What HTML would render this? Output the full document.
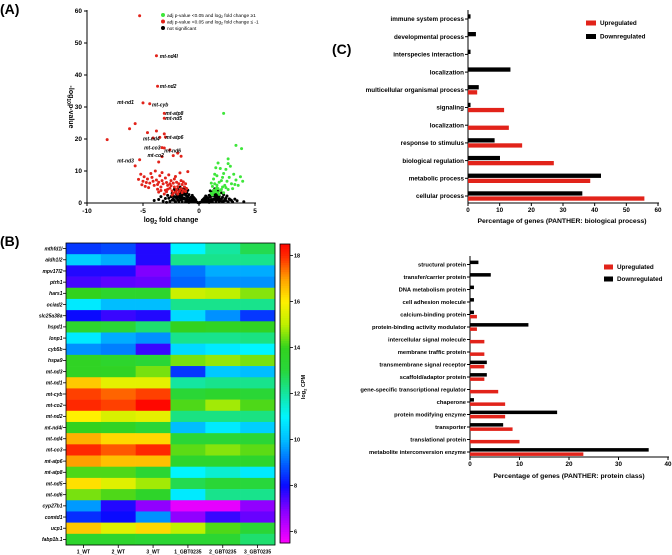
<!DOCTYPE html>
<html><head><meta charset="utf-8"><style>
body{margin:0;background:#fff;}
svg{display:block;font-family:"Liberation Sans",Arial,sans-serif;}
</style></head><body>
<svg id="fig" width="672" height="555" viewBox="0 0 672 555">
<g id="A"></g>
<g id="B"></g>
<g id="C1"></g>
<g id="C2"></g>
</svg>
<script>
// ---------- Volcano data ----------
const blackPts = "0,0 -0.2,0.3 0.2,0.3 -0.4,0.8 0.4,0.7 -0.6,1.2 0.6,1.1 -0.8,1.6 0.8,1.5 -1,2 1,1.9 -1.2,2.5 1.2,2.3 -1.4,3 1.4,2.8 -1.6,3.4 1.5,3.2 -1.8,3.6 -1.3,1.5 1.3,1.2 -1,0.6 1,0.5 -1.6,1 1.6,0.9 -2,1.5 2,1.2 -2.2,0.8 2.2,0.6 -2.5,2 2.4,1.6 -2,2.8 -1.7,2.2 1.8,2 -0.7,0.3 0.7,0.3 -1.5,0.4 1.5,0.3 -2.6,0.5 2.6,0.4 -3,1.4 2.8,1 -3.2,0.6 3,0.3 -1.1,3.2 1.1,3 -0.9,2.6 0.9,2.4 -1.9,4.2 1.7,4 -0.5,1.8 0.5,1.6 -2.4,3 2.2,2.6 -1.2,1 1.2,0.9 -0.3,0.5 0.3,0.4 -2.8,2.4 2.5,2.2 -1.5,2.4 1.4,2.1 -3.4,2 -0.8,0.8 0.8,0.7 -1.8,1.8 1.8,1.5 3.2,1.2 -2.1,3.6 2,3.2 -0.6,2.4 0.6,2.2 -1.4,4.4 1.4,4.4 -1.7,5 -1,4 1,3.8 -0.1,0.1 0.1,0.2 -1.1,1.3 1.1,1.1 -1.9,0.9 1.9,0.7 -2.3,2.2 -0.4,1.4 0.4,1.2 -1.3,3.8 1.2,3.4 -2.9,0.2 2.9,0.8 4,0.4 -4,0.8 -0.3,1 0.3,0.9 -0.5,0.4 0.5,0.3 -0.7,1.8 0.7,1.7 -0.9,1.1 0.9,1 -1.1,2.2 1.1,2.1 -1.3,2.8 1.3,2.6 -1.5,1.7 1.5,1.6 -1.7,3 1.6,2.6 -1.9,2.2 1.8,2.4 -2.1,1.9 2.1,1.8 -2.3,1.3 2.3,1.1 -1.2,0.3 1.2,0.3 -1.8,0.5 1.8,0.4 -2.1,0.3 2.1,0.3 -0.9,0.2 0.9,0.2 -1.4,1.3 1.4,1.1 -1.6,2 1.6,1.8 -2.7,1.5 2.7,1.3 -1.5,3.8 1.3,3.6 -2.2,4.3 -1.2,4.6 1.6,4.2 -0.6,0.7 0.6,0.6 -1.7,1.4 1.7,1.2 -2.4,0.9 2.4,0.8 -3.6,1.1 3.4,0.7";
const redPts = "-1.2,3.6 -1.4,4 -1.6,4.5 -1.8,3.5 -2,4.2 -2.2,5 -2.4,3.8 -2.6,4.6 -2.8,5.5 -3,4 -3.2,6 -3.4,5 -3.6,6.5 -3.8,7.2 -4,5.5 -4.2,8 -4.4,6.2 -4.6,7.5 -4.8,5.2 -5,6.8 -5.2,9 -3.5,8.5 -3,7.8 -2.5,7 -2,6.5 -1.5,5.8 -1.3,5 -1.8,6 -2.2,7.5 -2.7,8.8 -3.3,9.5 -3.9,10 -4.3,9.2 -1.1,4.5 -1.6,7 -2.9,3.5 -3.7,4.3 -1.9,2.8 -2.3,3 -4.9,8.2 -3.1,2.8 -2.1,8.3 -1.7,9.4 -1,9.8 -2.6,6 -1.4,6.6 -3.6,3.4 -4.5,4.8 -5.4,7.4 -2.4,2.5 -1.5,3.3 -1.7,4 -2.1,3.4 -2.5,5.4 -2.9,6.4 -3.3,7 -3.7,5.8 -4.1,6.8 -1.9,5.1 -2.3,6.2 -1.2,6 -2.8,4.3 -3.4,3.9 -4.7,6.4 -5.1,5.7 -5.3,58.5 -8.2,19.8 -6.2,23.2 -5.7,24.8 -4.6,22 -3.8,22.5 -3.1,21.6 -4.1,20.3 -5.7,11.6 -3.6,12.8 -2.3,14.8 -1.6,14.6 -1.9,15.6 -2.6,16.6 -3.8,46 -3.7,36.5 -5,31.3 -4.4,31 -3.1,28 -3.1,26.5 -3.5,20.5 -3,20.6 -3.3,17.3 -3.1,17.2 -3.3,14.5 -5.3,13.5";
const greenPts = "1.1,3 1.3,4 1.5,3.5 1.7,4.5 1.9,3.8 2.1,5 1.2,5.2 1.4,6 1.6,4.8 1.8,6.5 2,7 2.3,5.5 2.5,6.8 2.7,8 2.9,6 3.1,9 3.3,7.2 3.5,5.5 3.7,8.2 3.9,6.8 1.1,6.2 1.3,7.5 1.6,8.5 2.2,9.2 2.4,10.5 1.9,10.8 1.5,11 2.8,11.5 2.6,12.3 1.8,2.7 2.2,3.2 1.2,2.5 2.6,4.2 3,4.5 1.4,9 2.1,8 3.2,5.8 1.5,4.2 1.7,3.2 2,4.2 1.3,3.3 1.6,5.6 2.4,4.8 2.2,28 3.3,18 3.8,17 2.6,13.8 1.7,12.5";
const geneLabels = ["mt-nd4l","mt-nd2","mt-nd1","mt-cyb","mt-atp8","mt-nd5","mt-nd4","mt-atp6","mt-co3","mt-nd6","mt-co2","mt-nd3"];
const geneLabelPos = [[-3.5,46],[-3.5,36.5],[-7.3,31.5],[-4.2,30.8],[-3,28.2],[-3,26.6],[-5,20.2],[-3,20.6],[-4.9,17.3],[-3.1,16.4],[-4.6,15],[-7.3,13.3]];
const volXTicks = [-10,-5,0,5];
const volYTicks = [0,10,20,30,40,50,60];

// ---------- Heatmap data ----------
const hmGenes = ["mthfd1l","aldh1l2","mpv17l2","ptrh1","hars1","ociad2","slc25a38a","hspd1","lonp1","cyb5b","hspa9","mt-nd3","mt-nd1","mt-cyb","mt-co2","mt-nd2","mt-nd4l","mt-nd4","mt-co3","mt-atp6","mt-atp8","mt-nd5","mt-nd6","cyp27b1","comtd1","ucp1","fabp1b.1"];
const hmSamples = ["1_WT","2_WT","3_WT","1_GBT0235","2_GBT0235","3_GBT0235"];
const hmValues = [
[8.5,8.7,7.8,11,12,12.8],[10.3,9.8,7.8,12.2,12.2,12.2],[7.8,7.8,7,9.2,9.8,9.8],[7.5,7.3,7.2,9,9.5,9.5],
[14,13.5,13.5,15.2,15,14.6],[10.8,10,10,12.2,12.2,12.2],[8,7.6,7.8,10.5,9.5,8.5],[13.5,13.2,12.5,14,13.8,13.8],
[10.8,9.8,9.5,12.2,12.2,12.3],[9.5,9.3,7.6,10.5,10.8,11],[13.8,13.5,13.2,14.5,14.7,14.5],[13.8,13.8,14.5,8.5,10.2,10],
[16.5,15.6,15.6,12,12.2,12.2],[17.8,17.5,17.8,13.2,13.5,13.2],[18,17.8,18.5,14.2,14.8,14.2],[16,15.4,15.6,12.3,12.3,12.3],
[14,13.8,13.2,10,10.8,10.3],[16.8,16.3,16.3,13.2,13.2,13.2],[18,17.6,18,14.3,14.6,14.3],[17,16.6,16.6,13.5,13.5,13.5],
[14.2,14.2,13.3,11,11.5,10.8],[16.2,15.5,14.8,12.8,13.2,13],[14.5,14.2,13.6,10.8,12.2,12.2],[9.6,7.8,6.8,5.8,5.8,6.8],
[8.4,8,9.5,6.8,7.6,7.2],[16.5,15.5,16.3,15,14.2,13.2],[13.5,13.5,13.3,13.3,13.3,12.5]];
const cbTicks = [6,8,10,12,14,16,18];

// ---------- Biological process ----------
const bpCats = ["immune system process","developmental process","interspecies interaction","localization","multicellular organismal process","signaling","localization","response to stimulus","biological regulation","metabolic process","cellular process"];
const bpDown = [0.8,2.5,0.8,13.4,3.4,0.8,0,8.4,10.1,42,36.1];
const bpUp = [0,0,0,0,2.9,11.4,12.9,17.1,27.1,38.6,55.7];
const bpTicks = [0,10,20,30,40,50,60];

// ---------- Protein class ----------
const pcCats = ["structural protein","transfer/carrier protein","DNA metabolism protein","cell adhesion molecule","calcium-binding protein","protein-binding activity modulator","intercellular signal molecule","membrane traffic protein","transmembrane signal receptor","scaffold/adaptor protein","gene-specific transcriptional regulator","chaperone","protein modifying enzyme","transporter","translational protein","metabolite interconversion enzyme"];
const pcDown = [1.7,4.2,0.8,0.8,0.8,11.8,0,0,3.4,3.4,0,0.8,17.6,6.7,0,36.1];
const pcUp = [0,0,0,0,1.4,1.4,2.9,2.9,2.9,2.9,5.7,7.1,7.1,8.6,10,22.9];
const pcTicks = [0,10,20,30,40];

const NS="http://www.w3.org/2000/svg";
function mk(parent,tag,attrs,text){const e=document.createElementNS(NS,tag);for(const k in attrs)e.setAttribute(k,attrs[k]);if(text!==undefined)e.textContent=text;parent.appendChild(e);return e;}
const RED="#e2231a";
const fig=document.getElementById('fig');

[["(A)",0,14],["(B)",0,246],["(C)",332,54]].forEach(p=>{
  const t=mk(fig,'text',{x:p[1],y:p[2],'font-size':14,'font-weight':'bold'},p[0]);
  
  
});

// ===== Volcano =====
(function(){
  const g=document.getElementById('A');
  const vx=v=>87+(v+10)*(168/15), vy=v=>203-v*3.2;
  mk(g,'line',{x1:87,y1:203,x2:256,y2:203,stroke:'#000','stroke-width':1});
  mk(g,'line',{x1:87,y1:203,x2:87,y2:10,stroke:'#000','stroke-width':1});
  volXTicks.forEach(t=>{
    mk(g,'line',{x1:vx(t),y1:203,x2:vx(t),y2:206,stroke:'#000'});
    const e=mk(g,'text',{x:vx(t),y:213,'font-size':6.5,'font-weight':'bold','text-anchor':'middle'},t);
    
    
  });
  volYTicks.forEach(t=>{
    mk(g,'line',{x1:84,y1:vy(t),x2:87,y2:vy(t),stroke:'#000'});
    const e=mk(g,'text',{x:82,y:vy(t)+2.2,'font-size':6.5,'font-weight':'bold','text-anchor':'end'},t);
    
    
  });
  const xt=mk(g,'text',{x:171,y:222,'font-size':7,'font-weight':'bold','text-anchor':'middle'});
  xt.innerHTML='log<tspan font-size="5" dy="2">2</tspan><tspan dy="-2"> fold change</tspan>';
  
  
  const yt=mk(g,'text',{x:0,y:0,'font-size':7,'font-weight':'bold','text-anchor':'middle',transform:'translate(69,107) rotate(90)'});
  yt.innerHTML='-log<tspan font-size="5" dy="2">10</tspan><tspan dy="-2">p-value</tspan>';
  
  
  function draw(str,col,name){
    str.trim().split(/\s+/).forEach(p=>{const [a,b]=p.split(',').map(Number);
      const c=mk(g,'circle',{cx:vx(a),cy:vy(b),r:1.5,fill:col});
      
      });
  }
  draw(blackPts,'#000','point-not-significant');
  draw(greenPts,'#3ee63a','point-upregulated');
  draw(redPts,RED,'point-downregulated');
  geneLabels.forEach((l,i)=>{
    const e=mk(g,'text',{x:vx(geneLabelPos[i][0]),y:vy(geneLabelPos[i][1])+2,'font-size':5,'font-weight':'bold','font-style':'italic'},l);
    
    
  });
  const leg=[['#3ee63a','adj p-value <0.05 and log','2',' fold change \u22651'],[RED,'adj p-value <0.05 and log','2',' fold change \u2264 -1'],['#000','not significant','','']];
  leg.forEach((l,i)=>{
    const y=15+i*6.5;
    const c=mk(g,'circle',{cx:163,cy:y,r:2,fill:l[0]});
    
    
    const t=mk(g,'text',{x:167,y:y+1.8,'font-size':4.8});
    t.innerHTML=l[1]+(l[2]?'<tspan font-size="3.5" dy="1">'+l[2]+'</tspan><tspan dy="-1">'+l[3]+'</tspan>':'');
    
    
  });
})();

// ===== Heatmap =====
function heatColor(v){
  const stops=[[5.5,[255,0,255]],[7,[128,0,255]],[8,[10,10,255]],[9,[0,100,255]],[10,[0,190,255]],[11,[0,245,255]],[12,[20,230,160]],[13,[40,215,60]],[14,[50,210,30]],[15,[190,240,0]],[16,[255,240,0]],[17,[255,160,0]],[18,[255,40,0]],[18.6,[255,0,0]]];
  if(v<=stops[0][0])return 'rgb('+stops[0][1]+')';
  for(let i=1;i<stops.length;i++){if(v<=stops[i][0]){const a=stops[i-1],b=stops[i],f=(v-a[0])/(b[0]-a[0]);
    return 'rgb('+a[1].map((c,k)=>Math.round(c+(b[1][k]-c)*f)).join(',')+')';}}
  return 'rgb(255,0,0)';
}
(function(){
  const g=document.getElementById('B');
  const x0=66,x1=275,y0=243,y1=545;
  const cw=(x1-x0)/hmSamples.length, rh=(y1-y0)/hmGenes.length;
  hmValues.forEach((row,r)=>row.forEach((v,c)=>{
    const e=mk(g,'rect',{x:x0+c*cw,y:y0+r*rh,width:cw+0.3,height:rh+0.3,fill:heatColor(v)});
    
    
  }));
  mk(g,'rect',{x:x0,y:y0,width:x1-x0,height:y1-y0,fill:'none',stroke:'#000','stroke-width':0.8});
  hmGenes.forEach((n,r)=>{
    const y=y0+(r+0.5)*rh;
    mk(g,'line',{x1:x0-3,y1:y,x2:x0,y2:y,stroke:'#000','stroke-width':0.8});
    const e=mk(g,'text',{x:x0-3.5,y:y+1.8,'font-size':5,'font-weight':'bold','font-style':'italic','text-anchor':'end'},n);
    
    
  });
  hmSamples.forEach((n,c)=>{
    const x=x0+(c+0.5)*cw;
    mk(g,'line',{x1:x,y1:y1,x2:x,y2:y1+3,stroke:'#000','stroke-width':0.8});
    const e=mk(g,'text',{x:x,y:y1+8.5,'font-size':5,'font-weight':'bold','text-anchor':'middle'},n);
    
    
  });
  const cy0=244,cy1=543,vmin=5.5,vmax=18.5;
  const cyf=v=>cy1-(v-vmin)/(vmax-vmin)*(cy1-cy0);
  for(let i=0;i<130;i++){const v=vmin+(i+0.5)*(vmax-vmin)/130;
    mk(g,'rect',{x:280,y:cyf(v)-(cy1-cy0)/260,width:10,height:(cy1-cy0)/130+0.5,fill:heatColor(v)});}
  const cb=mk(g,'rect',{x:280,y:cy0,width:10,height:cy1-cy0,fill:'none',stroke:'#000','stroke-width':0.8});
  
  
  cbTicks.forEach(t=>{
    mk(g,'line',{x1:290,y1:cyf(t),x2:293,y2:cyf(t),stroke:'#000','stroke-width':0.8});
    const e=mk(g,'text',{x:294,y:cyf(t)+2,'font-size':5.5,'font-weight':'bold'},t);
    
    
  });
  const tt=mk(g,'text',{x:0,y:0,'font-size':5.5,'font-weight':'bold','text-anchor':'middle',transform:'translate(305,387) rotate(-90)'});
  tt.innerHTML='log<tspan font-size="4" dy="1.5">2</tspan><tspan dy="-1.5"> CPM</tspan>';
  
  
})();

// ===== Bar charts =====
function barChart(g,o){
  const sx=v=>o.x0+v*o.ppu;
  const n=o.cats.length, step=(o.yBottomCat-o.yTopCat)/(n-1);
  mk(g,'line',{x1:o.x0,y1:o.yTop,x2:o.x0,y2:o.yAxis,stroke:'#000','stroke-width':1});
  mk(g,'line',{x1:o.x0,y1:o.yAxis,x2:sx(o.ticks[o.ticks.length-1])+1,y2:o.yAxis,stroke:'#000','stroke-width':1});
  o.ticks.forEach(t=>{
    mk(g,'line',{x1:sx(t),y1:o.yAxis,x2:sx(t),y2:o.yAxis+3,stroke:'#000'});
    const e=mk(g,'text',{x:sx(t),y:o.yAxis+9,'font-size':6.3,'font-weight':'bold','text-anchor':'middle'},t);
    
    
  });
  o.cats.forEach((c,i)=>{
    const y=o.yTopCat+i*step;
    mk(g,'line',{x1:o.x0-3,y1:y,x2:o.x0,y2:y,stroke:'#000'});
    const e=mk(g,'text',{x:o.x0-4,y:y+2.2,'font-size':o.fs,'font-weight':'bold','text-anchor':'end'},c);
    
    
    if(o.down[i]>0){const b=mk(g,'rect',{x:o.x0,y:y-o.bh-0.4,width:sx(o.down[i])-o.x0,height:o.bh,fill:'#000'});
      
      }
    if(o.up[i]>0){const b=mk(g,'rect',{x:o.x0,y:y+0.4,width:sx(o.up[i])-o.x0,height:o.bh,fill:RED});
      
      }
  });
  const at=mk(g,'text',{x:o.titleX,y:o.titleY,'font-size':6.8,'font-weight':'bold','text-anchor':'middle'},o.title);
  
  
  [[RED,'Upregulated'],['#000','Downregulated']].forEach((l,i)=>{
    const y=o.legY+i*o.legStep;
    const r=mk(g,'rect',{x:o.legX,y:y-2.5,width:o.legW,height:5,fill:l[0]});
    
    
    const t=mk(g,'text',{x:o.legX+o.legW+4,y:y+2.2,'font-size':6.3,'font-weight':'bold'},l[1]);
    
    
  });
}
barChart(document.getElementById('C1'),{cats:bpCats,down:bpDown,up:bpUp,ticks:bpTicks,x0:468,ppu:(658-468)/60,yTop:10,yAxis:203,yTopCat:19,yBottomCat:196,bh:4.3,fs:6.3,title:'Percentage of genes (PANTHER: biological process)',titleX:562,titleY:223,legX:586,legY:23,legStep:13.5,legW:10});
barChart(document.getElementById('C2'),{cats:pcCats,down:pcDown,up:pcUp,ticks:pcTicks,x0:470,ppu:(668-470)/40,yTop:256,yAxis:457,yTopCat:264.5,yBottomCat:452,bh:3.5,fs:5.8,title:'Percentage of genes (PANTHER: protein class)',titleX:569,titleY:478,legX:604,legY:267,legStep:12,legW:9});
</script>
</body></html>
